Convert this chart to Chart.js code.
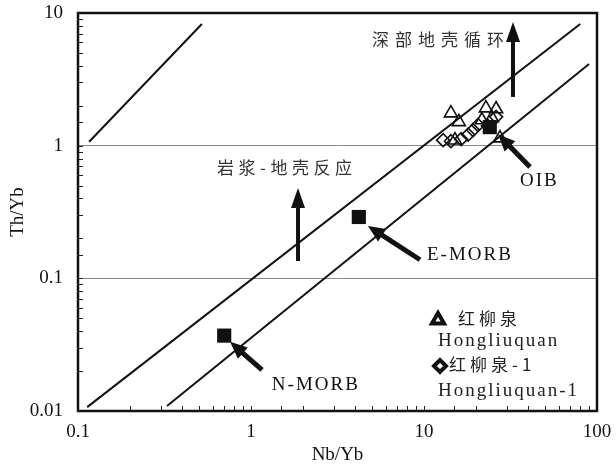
<!DOCTYPE html>
<html>
<head>
<meta charset="utf-8">
<script src="https://cdn.jsdelivr.net/npm/chart.js@4.4.1/dist/chart.umd.min.js"></script>
<style>
  html, body { margin: 0; padding: 0; background: #fff; }
  canvas { display: block; }
</style>
</head>
<body>
<canvas id="chart" width="616" height="469"></canvas>
<script>
// Th/Yb vs Nb/Yb diagram
const xTicks = [0.1, 1, 10, 100];
const yTicks = [0.01, 0.1, 1, 10];

// 红柳泉 (triangles)
const hlqX = [14.3, 15.9, 22.8, 26.1, 24.7, 15.1, 27.5, 21.6];
const hlqY = [1.76, 1.51, 1.92, 1.89, 1.62, 1.10, 1.14, 1.56];
// 红柳泉-1 (diamonds)
const hlq1X = [12.9, 14.3, 16.4, 18.0, 19.2, 20.5, 26.1, 23.4];
const hlq1Y = [1.10, 1.08, 1.12, 1.21, 1.31, 1.43, 1.65, 1.41];
// reference compositions
const refNames = ['N-MORB', 'E-MORB', 'OIB'];
const refX = [0.7, 4.2, 24];
const refY = [0.037, 0.29, 1.38];
// guide lines
const upperLineX = [0.113, 80];
const upperLineY = [0.0107, 8.26];
const lowerLineX = [0.327, 90];
const lowerLineY = [0.0109, 4.13];
const shortLineX = [0.116, 0.52];
const shortLineY = [1.07, 8.26];

const SERIF = '"Liberation Serif", "DejaVu Serif", serif';
const CJK = '"Noto Sans CJK SC", "Noto Sans", sans-serif';

const pts = (xs, ys) => xs.map((x, i) => ({ x: x, y: ys[i] }));
const isDecade = (v, list) => list.some(t => Math.abs(Math.log10(v) - Math.log10(t)) < 1e-6);

// arrows and labels given in data units
const arrows = [
  { from: [1.158, 0.0204], to: [0.757, 0.0332], w: 5, head: 17, hw: 15 },
  { from: [9.48, 0.138], to: [4.74, 0.248], w: 5, head: 17, hw: 15 },
  { from: [41, 0.69], to: [26.8, 1.22], w: 5, head: 17, hw: 15 },
  { from: [1.87, 0.135], to: [1.87, 0.48], w: 4, head: 20, hw: 14 },
  { from: [32.7, 2.33], to: [32.7, 8.55], w: 4, head: 20, hw: 14 }
];
const labels = [
  { text: '深部地壳循环', x: 5.0, y: 6.27, font: '17px ' + CJK, sp: '6px', color: '#333' },
  { text: '岩浆-地壳反应', x: 0.636, y: 0.68, font: '17px ' + CJK, sp: '4.5px', color: '#333' },
  { text: 'E-MORB', x: 10.4, y: 0.15, font: '19px ' + SERIF, sp: '2px', color: '#111' },
  { text: 'OIB', x: 35.9, y: 0.54, font: '19px ' + SERIF, sp: '2px', color: '#111' },
  { text: 'N-MORB', x: 1.32, y: 0.0157, font: '19px ' + SERIF, sp: '2px', color: '#111' }
];

function drawArrow(ctx, x1, y1, x2, y2, w, head, hw) {
  const a = Math.atan2(y2 - y1, x2 - x1);
  const bx = x2 - Math.cos(a) * head, by = y2 - Math.sin(a) * head;
  ctx.beginPath();
  ctx.lineWidth = w;
  ctx.lineCap = 'butt';
  ctx.moveTo(x1, y1);
  ctx.lineTo(bx + Math.cos(a) * 2, by + Math.sin(a) * 2);
  ctx.stroke();
  ctx.beginPath();
  ctx.moveTo(x2, y2);
  ctx.lineTo(bx + Math.sin(a) * hw / 2, by - Math.cos(a) * hw / 2);
  ctx.lineTo(bx - Math.sin(a) * hw / 2, by + Math.cos(a) * hw / 2);
  ctx.closePath();
  ctx.fill();
}

const decorations = {
  id: 'decorations',
  afterDatasetsDraw(chart) {
    const ctx = chart.ctx, ca = chart.chartArea;
    const xs = chart.scales.x, ys = chart.scales.y;
    ctx.save();
    ctx.strokeStyle = '#111';
    ctx.fillStyle = '#111';

    // arrows
    arrows.forEach(a => {
      drawArrow(ctx, xs.getPixelForValue(a.from[0]), ys.getPixelForValue(a.from[1]),
        xs.getPixelForValue(a.to[0]), ys.getPixelForValue(a.to[1]), a.w, a.head, a.hw);
    });

    // text labels
    ctx.textBaseline = 'middle';
    ctx.textAlign = 'left';
    labels.forEach(l => {
      ctx.font = l.font;
      ctx.letterSpacing = l.sp;
      ctx.fillStyle = l.color;
      ctx.fillText(l.text, xs.getPixelForValue(l.x), ys.getPixelForValue(l.y));
    });

    // legend
    const lx = ca.left + 360, ly = ca.top;
    ctx.strokeStyle = '#111';
    ctx.fillStyle = 'rgba(0,0,0,0)';
    Chart.helpers.drawPoint(ctx, { pointStyle: 'triangle', radius: 7, borderWidth: 2.2, rotation: 0 }, lx, ly + 307);
    Chart.helpers.drawPoint(ctx, { pointStyle: 'rectRot', radius: 6, borderWidth: 2.2, rotation: 0 }, lx + 2, ly + 353);
    ctx.fillStyle = '#222';
    ctx.font = '17px ' + CJK;
    ctx.letterSpacing = '4px';
    ctx.fillText('红柳泉', lx + 20, ly + 306);
    ctx.fillText('红柳泉-1', lx + 11, ly + 352);
    ctx.font = '19px ' + SERIF;
    ctx.letterSpacing = '2px';
    ctx.fillText('Hongliuquan', lx, ly + 328);
    ctx.fillText('Hongliuquan-1', lx, ly + 378);
    ctx.letterSpacing = '0px';

    // inner ticks
    ctx.strokeStyle = '#222';
    ctx.lineWidth = 1;
    xs.ticks.forEach(t => {
      const p = Math.round(xs.getPixelForValue(t.value)) + 0.5;
      ctx.beginPath();
      ctx.moveTo(p, ca.bottom);
      ctx.lineTo(p, ca.bottom - 5);
      ctx.stroke();
    });
    ys.ticks.forEach(t => {
      const p = Math.round(ys.getPixelForValue(t.value)) + 0.5;
      ctx.beginPath();
      ctx.moveTo(ca.left, p);
      ctx.lineTo(ca.left + 5, p);
      ctx.stroke();
    });

    // frame
    ctx.strokeStyle = '#111';
    ctx.lineWidth = 2.5;
    ctx.strokeRect(ca.left, ca.top, ca.right - ca.left, ca.bottom - ca.top);
    ctx.restore();
  }
};

const lineStyle = {
  showLine: true, borderColor: '#111', borderWidth: 2, pointRadius: 0,
  pointHoverRadius: 0, fill: false
};

new Chart(document.getElementById('chart'), {
  type: 'scatter',
  data: {
    datasets: [
      { label: refNames.join(', '), data: pts(refX, refY), pointStyle: 'rect',
        pointRadius: 10, backgroundColor: '#111', borderColor: '#111', borderWidth: 0 },
      { label: '红柳泉', data: pts(hlqX, hlqY), pointStyle: 'triangle',
        pointRadius: 7.5, backgroundColor: 'rgba(0,0,0,0)', borderColor: '#111', borderWidth: 1.6 },
      { label: '红柳泉-1', data: pts(hlq1X, hlq1Y), pointStyle: 'rectRot',
        pointRadius: 6.5, backgroundColor: 'rgba(0,0,0,0)', borderColor: '#111', borderWidth: 1.6 },
      Object.assign({ label: 'upper', data: pts(upperLineX, upperLineY) }, lineStyle),
      Object.assign({ label: 'lower', data: pts(lowerLineX, lowerLineY) }, lineStyle),
      Object.assign({ label: 'short', data: pts(shortLineX, shortLineY) }, lineStyle)
    ]
  },
  options: {
    responsive: false,
    animation: false,
    layout: { padding: { left: 0, right: 19, top: 13, bottom: 0 } },
    plugins: { legend: { display: false }, tooltip: { enabled: false } },
    scales: {
      x: {
        type: 'logarithmic', min: 0.1, max: 100,
        afterFit: s => { s.height = 58; s.paddingLeft = 0; s.paddingRight = 0; },
        border: { display: false },
        grid: { display: false, drawTicks: false },
        ticks: {
          autoSkip: false, maxRotation: 0, padding: 10, color: '#111',
          font: { family: SERIF, size: 19 },
          callback: v => isDecade(v, xTicks) ? String(v) : ''
        },
        title: { display: true, text: 'Nb/Yb', color: '#111',
          font: { family: SERIF, size: 19 }, padding: { top: 0, bottom: 3 } }
      },
      y: {
        type: 'logarithmic', min: 0.01, max: 10,
        afterFit: s => { s.width = 78; s.paddingTop = 0; s.paddingBottom = 0; },
        border: { display: false },
        grid: {
          drawTicks: false,
          color: c => (c.tick && (isDecade(c.tick.value, [0.1, 1]))) ? '#8a8a8a' : 'rgba(0,0,0,0)',
          lineWidth: 1
        },
        ticks: {
          autoSkip: false, padding: 15, color: '#111',
          font: { family: SERIF, size: 19 },
          callback: v => isDecade(v, yTicks) ? String(v) : ''
        },
        title: { display: true, text: 'Th/Yb', color: '#111',
          font: { family: SERIF, size: 19 }, padding: { top: 7, bottom: 0 } }
      }
    }
  },
  plugins: [decorations]
});
</script>
</body>
</html>
